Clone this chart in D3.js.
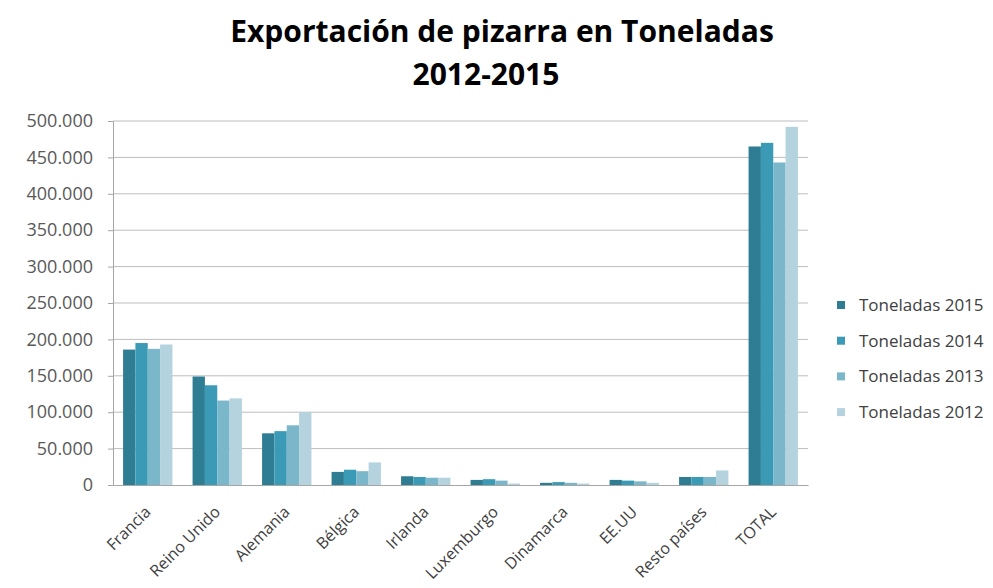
<!DOCTYPE html>
<html>
<head>
    <meta charset="utf-8">
    <title>Exportación de pizarra</title>
    <script src="https://d3js.org/d3.v7.min.js"></script>
    <style>
        body { margin: 0; background: #fff; }
        text { font-family: "Open Sans", sans-serif; }
    </style>
</head>
<body>
    <div id="grafico"></div>
    <script>
        // datos
        var paises = ["Francia", "Reino Unido", "Alemania", "Bélgica", "Irlanda",
            "Luxemburgo", "Dinamarca", "EE.UU", "Resto países", "TOTAL"];
        var series = ["Toneladas 2015", "Toneladas 2014", "Toneladas 2013", "Toneladas 2012"];
        var t2015 = [186000, 149000, 71000, 18000, 12000, 7000, 3000, 7000, 11000, 465000];
        var t2014 = [195000, 137000, 74000, 21000, 11000, 8000, 4000, 6000, 11000, 470000];
        var t2013 = [187000, 116000, 82000, 19000, 10000, 6000, 3000, 5000, 11000, 443000];
        var t2012 = [193000, 119000, 100000, 31000, 10000, 2000, 2000, 3000, 20000, 492000];
        var ticks = [0, 50000, 100000, 150000, 200000, 250000, 300000, 350000, 400000, 450000, 500000];
        var colores = ["#2e7d93", "#3b9bb6", "#7ab7cb", "#b4d3df"];

        var valores = [t2015, t2014, t2013, t2012];
        var tabla = paises.map(function (p, i) {
            return { pais: p, v: valores.map(function (s) { return s[i]; }) };
        });

        var width = 993, height = 588;
        var m = { left: 113, right: 185, top: 121, bottom: 103 };

        var svg = d3.select("#grafico").append("svg")
            .attr("width", width)
            .attr("height", height);

        var x = d3.scaleBand()
            .domain(paises)
            .range([m.left, width - m.right])
            .paddingInner(0.29)
            .paddingOuter(0.145);

        var x1 = d3.scaleBand()
            .domain(d3.range(series.length))
            .range([0, x.bandwidth()]);

        var y = d3.scaleLinear()
            .domain([0, 500000])
            .range([height - m.bottom, m.top]);

        var fmt = function (d) { return d3.format(",")(d).replace(/,/g, "."); };

        // lineas de cuadricula
        svg.append("g")
            .selectAll("line")
            .data(ticks.slice(1))
            .enter()
            .append("line")
            .attr("x1", m.left)
            .attr("x2", width - m.right)
            .attr("y1", function (d) { return y(d); })
            .attr("y2", function (d) { return y(d); })
            .attr("stroke", "#bdbdbd")
            .attr("stroke-width", 1);

        // eje y
        var ejeY = svg.append("g")
            .attr("transform", "translate(" + m.left + ",0)")
            .call(d3.axisLeft(y).tickValues(ticks).tickFormat(fmt).tickSize(5).tickPadding(15));
        ejeY.select(".domain").attr("stroke", "#a6a6a6");
        ejeY.selectAll(".tick line").attr("stroke", "#a6a6a6");
        ejeY.selectAll("text")
            .attr("fill", "#595959")
            .style("font-size", "18px")
            .style("font-family", "'Open Sans', sans-serif");

        // barras
        var grupos = svg.append("g")
            .selectAll("g")
            .data(tabla)
            .enter()
            .append("g")
            .attr("transform", function (d) { return "translate(" + x(d.pais) + ",0)"; });

        grupos.selectAll("rect")
            .data(function (d) { return d.v; })
            .enter()
            .append("rect")
            .attr("x", function (d, i) { return x1(i); })
            .attr("y", function (d) { return y(d); })
            .attr("width", x1.bandwidth())
            .attr("height", function (d) { return y(0) - y(d); })
            .attr("fill", function (d, i) { return colores[i]; });

        // eje x
        var ejeX = svg.append("g")
            .attr("transform", "translate(0," + y(0) + ")")
            .call(d3.axisBottom(x).tickSize(0));
        ejeX.select(".domain").attr("stroke", "#a6a6a6");
        ejeX.selectAll("text")
            .attr("fill", "#404040")
            .style("font-size", "16px")
            .style("font-family", "'Open Sans', sans-serif")
            .attr("text-anchor", "end")
            .attr("x", 0)
            .attr("y", 0)
            .attr("dy", 0)
            .attr("transform", "translate(4,28) rotate(-45)");

        // titulo
        var titulo = svg.append("text")
            .attr("text-anchor", "middle")
            .attr("fill", "#000")
            .style("font-size", "30px")
            .style("font-weight", "bold");
        titulo.append("tspan").attr("x", 502).attr("y", 42).text("Exportación de pizarra en Toneladas");
        titulo.append("tspan").attr("x", 486).attr("y", 85).text("2012-2015");

        // leyenda
        var ley = svg.append("g")
            .selectAll("g")
            .data(series)
            .enter()
            .append("g")
            .attr("transform", function (d, i) { return "translate(837," + (305 + i * 35.7) + ")"; });
        ley.append("rect")
            .attr("x", 0)
            .attr("y", -4)
            .attr("width", 8)
            .attr("height", 8)
            .attr("fill", function (d, i) { return colores[i]; });
        ley.append("text")
            .attr("x", 22)
            .attr("dy", "0.35em")
            .attr("fill", "#404040")
            .style("font-size", "17px")
            .text(function (d) { return d; });
    </script>
</body>
</html>
